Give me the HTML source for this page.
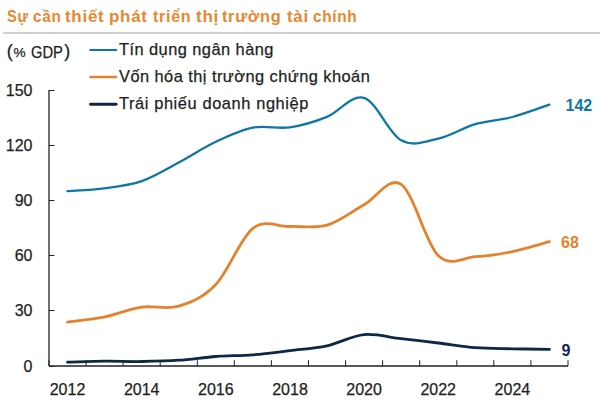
<!DOCTYPE html>
<html><head><meta charset="utf-8">
<style>
html,body{margin:0;padding:0;background:#fff;}
body{width:612px;height:409px;position:relative;overflow:hidden;font-family:"Liberation Sans",sans-serif;color:#1e1e22;-webkit-text-stroke:0.25px currentColor;}
.t{position:absolute;white-space:nowrap;line-height:1;}
#title{}
.tw{-webkit-text-stroke:0;transform-origin:0 0;top:8.7px;font-size:16px;font-weight:700;color:#E8872F;letter-spacing:0.67px;}
#rule{position:absolute;left:3px;top:32px;width:597px;height:2px;background:#cfcfcf;}
#unit{}
.u{top:45px;font-size:16px;}
.lg{left:119px;font-size:16.4px;letter-spacing:0.45px;}
.yl{position:absolute;left:0;width:32.5px;text-align:right;font-size:16px;line-height:19px;}
.xl{position:absolute;top:380.3px;width:60px;text-align:center;font-size:16px;line-height:19px;}
.end{-webkit-text-stroke:0;position:absolute;left:561px;font-size:16px;font-weight:700;line-height:19px;}
svg{position:absolute;left:0;top:0;}
</style></head><body>
<div class="t tw" style="left:7.3px;transform:scaleX(0.917)">Sự</div><div class="t tw" style="left:32.9px;transform:scaleX(0.961)">cần</div><div class="t tw" style="left:65.1px;transform:scaleX(1.062)">thiết</div><div class="t tw" style="left:108.6px;transform:scaleX(1.060)">phát</div><div class="t tw" style="left:153.0px;transform:scaleX(1.008)">triển</div><div class="t tw" style="left:196.1px;transform:scaleX(1.065)">thị</div><div class="t tw" style="left:222.2px;transform:scaleX(1.021)">trường</div><div class="t tw" style="left:287.0px;transform:scaleX(1.053)">tài</div><div class="t tw" style="left:313.1px;transform:scaleX(0.962)">chính</div>
<div id="rule"></div>
<div class="t u" style="left:6.8px;font-size:18px;top:42.2px">(</div><div class="t u" style="left:13.6px;font-size:13.6px;top:46.2px">%</div><div class="t u" style="left:30.8px;transform:scaleX(0.92);transform-origin:0 0">GDP</div><div class="t u" style="left:64.3px;font-size:18px;top:42.2px">)</div>
<div class="t lg" style="top:41.2px">Tín dụng ngân hàng</div>
<div class="t lg" style="top:68.2px">Vốn hóa thị trường chứng khoán</div>
<div class="t lg" style="top:95.2px;letter-spacing:0.6px">Trái phiếu doanh nghiệp</div>
<div class="yl" style="top:81.0px">150</div><div class="yl" style="top:136.1px">120</div><div class="yl" style="top:191.2px">90</div><div class="yl" style="top:246.3px">60</div><div class="yl" style="top:301.4px">30</div><div class="yl" style="top:356.5px">0</div>
<div class="xl" style="left:37.5px">2012</div><div class="xl" style="left:111.7px">2014</div><div class="xl" style="left:185.8px">2016</div><div class="xl" style="left:260.0px">2018</div><div class="xl" style="left:334.1px">2020</div><div class="xl" style="left:408.2px">2022</div><div class="xl" style="left:482.4px">2024</div>
<div class="end" style="left:565.5px;top:96.0px;color:#0E77A5">142</div>
<div class="end" style="top:232.9px;color:#E5822D">68</div>
<div class="end" style="left:561.5px;top:341.1px;color:#13205E">9</div>
<svg width="612" height="409" viewBox="0 0 612 409">
<g stroke="#222222" stroke-width="1.3" fill="none">
<line x1="49.0" y1="90.0" x2="49.0" y2="366.0"/>
<line x1="49.0" y1="366.0" x2="568.0" y2="366.0"/>
</g>
<g stroke="#222222" stroke-width="1" fill="none">
<line x1="49.0" y1="90.5" x2="54.5" y2="90.5"/><line x1="49.0" y1="145.5" x2="54.5" y2="145.5"/><line x1="49.0" y1="200.5" x2="54.5" y2="200.5"/><line x1="49.0" y1="255.5" x2="54.5" y2="255.5"/><line x1="49.0" y1="310.5" x2="54.5" y2="310.5"/><line x1="49.0" y1="366.5" x2="54.5" y2="366.5"/><line x1="49.0" y1="366.0" x2="49.0" y2="360.2"/><line x1="86.1" y1="366.0" x2="86.1" y2="360.2"/><line x1="123.1" y1="366.0" x2="123.1" y2="360.2"/><line x1="160.2" y1="366.0" x2="160.2" y2="360.2"/><line x1="197.3" y1="366.0" x2="197.3" y2="360.2"/><line x1="234.3" y1="366.0" x2="234.3" y2="360.2"/><line x1="271.4" y1="366.0" x2="271.4" y2="360.2"/><line x1="308.5" y1="366.0" x2="308.5" y2="360.2"/><line x1="345.6" y1="366.0" x2="345.6" y2="360.2"/><line x1="382.6" y1="366.0" x2="382.6" y2="360.2"/><line x1="419.7" y1="366.0" x2="419.7" y2="360.2"/><line x1="456.8" y1="366.0" x2="456.8" y2="360.2"/><line x1="493.8" y1="366.0" x2="493.8" y2="360.2"/><line x1="530.9" y1="366.0" x2="530.9" y2="360.2"/><line x1="568.0" y1="366.0" x2="568.0" y2="360.2"/>
</g>
<g fill="none" stroke-linecap="round">
<line x1="90.3" y1="50" x2="116.3" y2="50" stroke="#0E77A5" stroke-width="2.1"/>
<line x1="90.6" y1="77" x2="116.1" y2="77" stroke="#E5822D" stroke-width="2.7"/>
<line x1="90.6" y1="104.3" x2="116.1" y2="104.3" stroke="#0B2848" stroke-width="2.9"/>
</g>
<g fill="none" stroke-width="2.8" stroke-linecap="round" stroke-linejoin="round">
<path d="M67.5,362.1 C73.7,362.0 92.2,361.3 104.6,361.2 C117.0,361.1 129.3,361.7 141.7,361.5 C154.0,361.3 166.4,361.1 178.7,360.2 C191.1,359.4 203.5,357.4 215.8,356.5 C228.2,355.6 240.5,355.8 252.9,354.8 C265.2,353.9 277.6,352.1 290.0,350.6 C302.3,349.1 314.7,348.4 327.0,345.8 C339.4,343.1 351.7,335.8 364.1,334.6 C376.5,333.5 388.8,337.3 401.2,338.7 C413.5,340.1 425.9,341.5 438.2,343.0 C450.6,344.5 462.9,346.7 475.3,347.7 C487.7,348.6 500.0,348.5 512.4,348.8 C524.7,349.0 543.3,349.3 549.4,349.4" stroke="#0B2848"/>
<path d="M67.5,322.1 C73.7,321.2 92.2,319.4 104.6,316.9 C117.0,314.4 129.3,308.9 141.7,307.1 C154.0,305.3 166.4,310.0 178.7,306.2 C191.1,302.4 203.5,297.5 215.8,284.5 C228.2,271.6 240.5,237.9 252.9,228.3 C265.2,218.6 277.6,227.0 290.0,226.5 C302.3,226.0 314.7,228.8 327.0,225.2 C339.4,221.6 351.7,211.5 364.1,204.7 C376.5,198.0 388.8,175.9 401.2,184.4 C413.5,192.9 425.9,243.6 438.2,255.6 C450.6,267.7 462.9,257.4 475.3,256.7 C487.7,256.0 500.0,254.1 512.4,251.6 C524.7,249.1 543.3,243.3 549.4,241.7" stroke="#E5822D"/>
<path d="M67.5,191.1 C73.7,190.6 92.2,190.0 104.6,188.3 C117.0,186.7 129.3,185.4 141.7,181.1 C154.0,176.9 166.4,169.1 178.7,162.5 C191.1,156.0 203.5,147.6 215.8,141.8 C228.2,135.9 240.5,130.0 252.9,127.6 C265.2,125.2 277.6,129.1 290.0,127.3 C302.3,125.6 314.7,121.8 327.0,116.9 C339.4,112.0 351.7,94.0 364.1,97.9 C376.5,101.8 388.8,133.5 401.2,140.3 C413.5,147.1 425.9,141.3 438.2,138.6 C450.6,135.9 462.9,127.7 475.3,124.1 C487.7,120.5 500.0,120.3 512.4,117.0 C524.7,113.8 543.3,106.7 549.4,104.6" stroke="#0E77A5" stroke-width="2.3"/>
</g>
</svg>
</body></html>
